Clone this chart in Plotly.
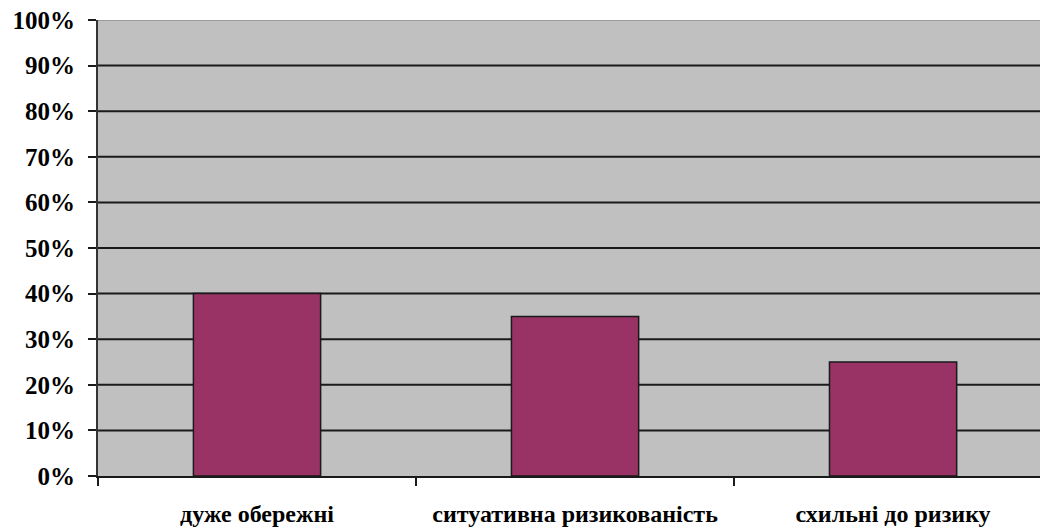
import plotly.graph_objects as go

# Risk-propensity groups and their shares (%)
categories = ["дуже обережні", "ситуативна ризикованість", "схильні до ризику"]
shares = [40, 35, 25]
y_ticks = [0, 10, 20, 30, 40, 50, 60, 70, 80, 90, 100]
y_tick_text = [f"{v}%" for v in y_ticks]

FONT = "Liberation Serif, Times New Roman, serif"

fig = go.Figure()
fig.add_trace(go.Bar(
    x=categories,
    y=shares,
    width=0.4,
    marker=dict(color="#993366", line=dict(color="#1a1a1a", width=1.5)),
    hoverinfo="skip",
))

# horizontal gridlines; the top edge is a lighter border
for v in y_ticks[1:-1]:
    fig.add_shape(type="line", xref="paper", x0=0, x1=1, yref="y", y0=v, y1=v,
                  line=dict(color="#1a1a1a", width=2), layer="below")
fig.add_shape(type="line", xref="paper", x0=0, x1=1, yref="y", y0=100, y1=100,
              line=dict(color="#9a9a9a", width=2), layer="below")

fig.update_layout(
    width=1040,
    height=530,
    margin=dict(l=98, r=0, t=20, b=54),
    paper_bgcolor="white",
    plot_bgcolor="#C0C0C0",
    showlegend=False,
    font=dict(family=FONT, size=21, color="black"),
    bargap=0.6,
)
fig.update_xaxes(
    type="category",
    range=[-0.5, 2.462],
    tickson="boundaries",
    ticks="outside",
    ticklen=8,
    tickwidth=2,
    tickcolor="#1a1a1a",
    showline=True,
    linecolor="#1a1a1a",
    linewidth=2,
    showgrid=False,
    tickfont=dict(family=FONT, size=24, color="black", weight="bold"),
    ticklabelstandoff=15,
)
fig.update_yaxes(
    range=[0, 100],
    tickvals=y_ticks,
    ticktext=y_tick_text,
    ticks="outside",
    ticklen=8,
    tickwidth=2,
    tickcolor="#1a1a1a",
    showline=True,
    linecolor="#333333",
    linewidth=2,
    showgrid=False,
    zeroline=False,
    tickfont=dict(family=FONT, size=25, color="black", weight="bold"),
    ticklabelstandoff=8,
)

fig.write_html("out.html")
